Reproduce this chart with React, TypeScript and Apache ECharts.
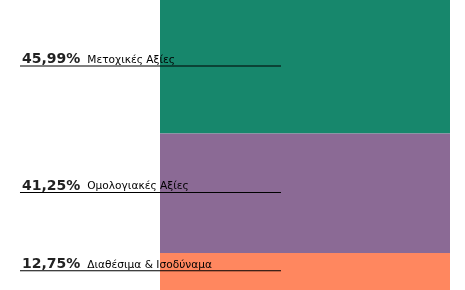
import React, { useEffect, useRef } from "react";
import * as echarts from "echarts";

const categories = ["Χαρτοφυλάκιο"];
const seriesNames = ["Μετοχικές Αξίες", "Ομολογιακές Αξίες", "Διαθέσιμα & Ισοδύναμα"];
const seriesValues = [45.99, 41.25, 12.75];
const seriesLabels = ["45,99%", "41,25%", "12,75%"];
const seriesColors = ["#17876c", "#8b6a95", "#ff875f"];

export default function App() {
  const ref = useRef<HTMLDivElement>(null);
  useEffect(() => {
    if (!ref.current) return;
    const chart = echarts.init(ref.current, null, { renderer: "svg" });
    const total = seriesValues.reduce((a, b) => a + b, 0);
    chart.setOption({
      animation: false,
      grid: { left: 160, right: 15, top: 0, bottom: 0 },
      xAxis: { type: "category", data: categories, show: false },
      yAxis: { type: "value", inverse: true, min: 0, max: total, show: false },
      series: seriesNames.map((name, i) => ({
        name,
        type: "bar",
        stack: "total",
        barWidth: "100%",
        data: [seriesValues[i]],
        itemStyle: { color: seriesColors[i] },
        label: {
          show: true,
          position: ["-48.28%", "50%"],
          verticalAlign: "bottom",
          align: "left",
          formatter: `{p|${seriesLabels[i]}}{n|${name}}\n{l|}`,
          rich: {
            p: {
              fontFamily: "DejaVu Sans",
              fontWeight: "bold",
              fontSize: 14,
              color: "#222",
              padding: [0, 0, 0, 2],
              lineHeight: 16,
              verticalAlign: "bottom",
            },
            n: {
              fontFamily: "DejaVu Sans",
              fontSize: 10.6,
              color: "#000",
              padding: [0, 0, 1, 7],
              lineHeight: 12,
              verticalAlign: "bottom",
            },
            l: {
              width: 261,
              height: 1,
              lineHeight: 1.5,
              backgroundColor: "#000",
            },
          },
        },
      })),
    });
    return () => chart.dispose();
  }, []);
  return (
    <div
      ref={ref}
      style={{ position: "fixed", left: 0, top: 0, width: 465, height: 290 }}
    />
  );
}
